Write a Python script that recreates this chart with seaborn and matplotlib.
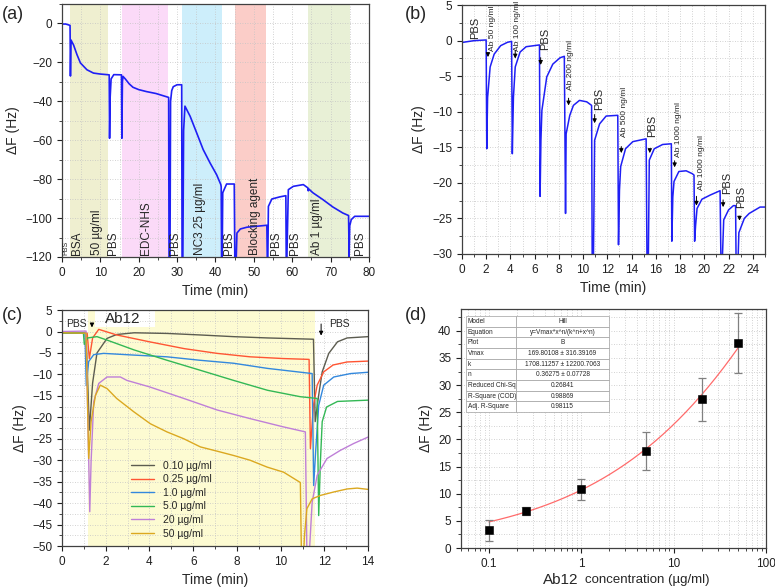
import numpy as np
import pandas as pd
import matplotlib
matplotlib.use("Agg")
import matplotlib.pyplot as plt
from matplotlib.ticker import MultipleLocator, AutoMinorLocator, FuncFormatter, LogLocator
from matplotlib.patches import Rectangle
import seaborn as sns

# ---------------- data ----------------
# (a) sensor functionalisation
a_time = [0.0, 1.0, 1.8, 2.1, 2.2, 2.35, 2.6, 3.0, 3.9, 4.8, 6.5, 8.2, 10.0, 12.3, 12.4, 12.55, 12.8, 13.5,
          15.5, 15.6, 15.75, 15.9, 16.5, 17.5, 18.5, 20.0, 22.0, 24.5, 27.8, 27.9, 28.15, 28.3, 28.6, 29.0,
          30.0, 31.2, 31.3, 31.5, 31.7, 32.05, 33.4, 35.1, 36.8, 38.6, 40.3, 41.4, 41.5, 41.6, 41.75, 41.9,
          42.9, 44.9, 45.05, 45.4, 45.6, 46.5, 48.2, 53.4, 53.5, 53.65, 53.8, 54.7, 56.8, 58.35, 58.45, 58.6,
          59.0, 60.3, 62.9, 64.1, 64.2, 64.3, 65.4, 68.0, 70.6, 73.2, 74.7, 74.85, 75.0, 75.4, 76.3, 80.0]
a_df = [-0.3, -0.3, -0.8, -1.0, -27.0, -8.5, -9.5, -11.0, -16.0, -20.3, -23.8, -25.5, -26.0, -26.4, -59.0, -38.0, -28.5, -26.3,
        -26.4, -59.0, -30.0, -27.2, -28.5, -31.0, -32.8, -34.0, -35.0, -36.0, -38.0, -122, -122, -40.0, -34.5, -32.5,
        -31.5, -31.5, -122, -122, -55.0, -42.5, -47.7, -56.2, -64.8, -71.7, -77.7, -82.8, -84.0, -122, -122, -87.0,
        -82.5, -82.5, -122, -122, -107.7, -105.6, -104.7, -103.7, -122, -122, -94.0, -90.2, -89.1, -88.5, -122, -122,
        -85.4, -83.7, -82.8, -84.5, -86.0, -85.0, -87.0, -90.5, -94.3, -97.4, -98.7, -120.0, -104.0, -100.8, -99.1, -99.1]
a_span_start = [2.2, 15.6, 31.2, 45.2, 64.1]
a_span_end = [12.0, 27.7, 41.6, 53.3, 75.1]
a_span_colors = ["#efefd0", "#fbdaf8", "#cdeefb", "#fbcdc8", "#e8f0d6"]
a_labels = ["BSA", "50 µg/ml", "PBS", "EDC-NHS", "PBS", "NC3 25 µg/ml", "PBS", "Blocking agent",
            "PBS", "PBS", "Ab 1 µg/ml", "PBS"]
a_label_x = [3.9, 9.1, 13.4, 21.8, 29.5, 36.0, 43.6, 50.3, 55.9, 60.7, 66.6, 77.6]

# (b) stepwise antibody injections
b_time = [0.0, 0.1, 1.0, 2.0, 2.05, 2.12, 2.33, 2.66, 3.2, 3.76, 4.1, 4.16, 4.25, 4.4, 4.8, 5.3, 6.4,
          6.45, 6.52, 6.6, 7.0, 7.5, 8.1, 8.45, 8.5, 8.55, 8.6, 8.9, 9.2, 9.7, 10.3, 10.7,
          10.75, 10.85, 10.95, 11.36, 11.9, 12.86, 12.92, 13.0, 13.1, 13.5, 14.1, 15.2,
          15.27, 15.38, 15.46, 15.87, 16.56, 17.28, 17.32, 17.4, 17.5, 17.9, 18.5, 19.0, 19.15,
          19.2, 19.28, 19.4, 19.8, 20.5, 21.3, 21.37, 21.48, 21.6, 22.0, 22.4, 22.58,
          22.62, 22.78, 22.85, 23.3, 23.7, 24.2, 24.6, 25.0]
b_df = [-0.3, -0.23, 0.0, 0.1, -15.2, -8.0, -3.7, -1.9, -0.7, -0.23, -0.1, -15.9, -8.0, -3.7, -1.6, -0.85, -0.6,
        -21.9, -14.0, -9.8, -5.1, -3.3, -2.4, -2.2, -13.0, -24.3, -13.1, -10.5, -9.1, -8.4, -8.6, -9.1,
        -31, -31, -14.0, -11.7, -10.6, -10.5, -28.7, -21.0, -17.7, -15.2, -14.2, -13.8,
        -31, -31, -16.8, -15.2, -14.6, -14.5, -28.2, -22.0, -19.8, -18.4, -18.3, -18.7, -18.9,
        -28.2, -26.0, -23.6, -22.3, -21.7, -21.1, -31, -31, -25.2, -23.8, -23.2, -23.2,
        -31, -31, -27.0, -25.0, -24.3, -23.8, -23.4, -23.4]
b_notes = ["PBS", "Ab 50 ng/ml", "Ab 100 ng/ml", "PBS", "Ab 200 ng/ml", "PBS", "Ab 500 ng/ml", "PBS",
           "Ab 1000 ng/ml", "Ab 1000 ng/ml", "PBS", "PBS"]
b_note_x = [1.1, 2.5, 4.6, 6.9, 9.0, 11.3, 13.4, 15.7, 17.9, 19.8, 21.9, 23.0]
b_note_y = [0.3, -1.4, -1.5, -1.3, -7.0, -9.8, -13.5, -13.5, -16.3, -21.0, -21.5, -23.6]
b_arrow_x = [2.15, 4.4, 6.5, 8.8, 10.95, 13.15, 15.5, 17.55, 19.35, 21.55, 22.9]
b_arrow_top = [-1.3, -1.0, -2.0, -7.7, -10.0, -14.5, -15.0, -16.5, -21.5, -22.0, -24.3]
b_arrow_bot = [-2.7, -2.9, -3.8, -9.5, -12.0, -16.2, -16.2, -18.2, -23.6, -23.8, -25.7]

# (c) Ab12 binding curves
c_labels = ["0.10 µg/ml", "0.25 µg/ml", "1.0 µg/ml", "5.0 µg/ml", "20 µg/ml", "50 µg/ml"]
c_colors = ["#5c5c50", "#ff5533", "#3388dd", "#33b855", "#bf7fd8", "#dba820"]
c_t_010 = [0.0, 1.1, 1.25, 1.4, 1.6, 2.06, 2.5, 3.3, 4.8, 6.3, 7.85, 9.4, 11.5, 11.58, 11.74, 11.9, 12.2, 12.6, 13.04, 14.0]
c_y_010 = [-0.3, -0.4, -23.0, -12.0, -5.0, -1.6, -0.7, -0.3, -0.45, -0.8, -1.2, -1.5, -1.8, -21.0, -14.8, -9.4, -5.1, -2.4, -1.5, -1.2]
c_t_025 = [0.0, 1.15, 1.25, 1.4, 1.68, 2.5, 4.0, 5.6, 7.1, 8.6, 10.1, 11.3, 11.36, 11.5, 11.67, 11.97, 12.4, 13.04, 14.0]
c_y_025 = [-0.3, -0.4, -6.3, -1.5, 0.5, -0.8, -2.4, -4.0, -5.1, -5.9, -6.3, -6.5, -27.3, -17.2, -12.5, -9.4, -7.8, -7.1, -6.9]
c_t_1 = [0.0, 1.05, 1.11, 1.22, 1.45, 1.9, 3.3, 4.8, 6.3, 7.85, 9.4, 11.44, 11.51, 11.6, 11.74, 11.97, 12.43, 13.2, 14.0]
c_y_1 = [-0.3, -0.4, -12.6, -7.0, -5.4, -5.1, -5.5, -5.9, -6.7, -7.4, -8.6, -9.8, -35.9, -28.0, -17.2, -12.5, -10.6, -9.8, -9.5]
c_t_5 = [0.0, 0.98, 1.02, 1.17, 1.6, 2.06, 3.3, 4.8, 6.3, 7.85, 9.4, 10.9, 11.67, 11.74, 11.82, 11.9, 12.1, 12.6, 14.0]
c_y_5 = [-0.3, -0.4, -3.0, -1.5, -1.2, -2.0, -4.3, -6.7, -9.0, -11.4, -13.7, -15.2, -15.6, -42.9, -30.0, -21.0, -17.6, -16.3, -16.0]
c_t_20 = [0.0, 1.1, 1.27, 1.33, 1.45, 1.68, 2.06, 2.67, 2.97, 4.0, 5.57, 7.1, 8.6, 10.1, 11.13, 11.2, 11.33, 11.44, 11.67, 12.12, 12.73, 13.34, 14.0]
c_y_20 = [0.0, 0.1, -42.0, -30.4, -16.4, -12.1, -10.6, -10.6, -11.4, -12.9, -15.6, -18.3, -20.3, -22.2, -23.4, -52.0, -49.9, -39.8, -33.5, -29.6, -27.7, -26.1, -24.6]
c_t_50 = [0.0, 1.1, 1.22, 1.33, 1.53, 1.75, 2.06, 2.5, 3.28, 4.04, 4.8, 5.57, 6.33, 7.1, 7.85, 8.6, 9.38, 10.14, 10.9, 10.95, 11.05, 11.09, 11.2, 11.44, 11.82, 12.43, 13.04, 13.5, 14.0]
c_y_50 = [-0.3, -0.4, -29.6, -21.0, -14.9, -12.5, -13.3, -15.6, -18.7, -21.5, -23.4, -25.0, -26.9, -27.9, -28.9, -30.0, -31.6, -32.8, -35.2, -52.0, -52.0, -47.5, -41.3, -39.0, -38.2, -37.4, -36.7, -36.5, -36.8]
c_times = [c_t_010, c_t_025, c_t_1, c_t_5, c_t_20, c_t_50]
c_values = [c_y_010, c_y_025, c_y_1, c_y_5, c_y_20, c_y_50]

# (d) calibration with Hill fit
d_conc = [0.1, 0.25, 1, 5, 20, 50]
d_df = [3.26, 6.83, 10.83, 17.9, 27.4, 37.7]
d_err = [1.9, 0.75, 1.95, 3.5, 4.0, 5.5]
hill_vmax, hill_k, hill_n = 169.80108, 1708.11257, 0.36275
d_table = [["Model", "Hill"],
           ["Equation", "y=Vmax*x^n/(k^n+x^n)"],
           ["Plot", "B"],
           ["Vmax", "169.80108 ± 316.39169"],
           ["k", "1708.11257 ± 12200.7063"],
           ["n", "0.36275 ± 0.07728"],
           ["Reduced Chi-Sq", "0.26841"],
           ["R-Square (COD)", "0.98869"],
           ["Adj. R-Square", "0.98115"]]

# ---------------- style ----------------
sns.set_style("ticks")
plt.rcParams['font.family'] = ['Liberation Sans', 'DejaVu Sans']
plt.rcParams['axes.edgecolor'] = '#404040'
plt.rcParams['axes.linewidth'] = 0.9

fig = plt.figure(figsize=(7.75, 5.87), dpi=100)
ax_a = fig.add_axes([0.080, 0.5622, 0.396, 0.431])
ax_b = fig.add_axes([0.596, 0.5673, 0.391, 0.424])
ax_c = fig.add_axes([0.080, 0.0698, 0.395, 0.402])
ax_d = fig.add_axes([0.595, 0.0664, 0.3935, 0.407])

GRID = dict(ls=(0, (1, 2)), color='#c4c4c4', lw=0.6)


def setup(ax, xmaj, ymaj):
    if xmaj:
        ax.xaxis.set_major_locator(MultipleLocator(xmaj))
        ax.xaxis.set_minor_locator(AutoMinorLocator(2))
    ax.yaxis.set_major_locator(MultipleLocator(ymaj))
    ax.yaxis.set_minor_locator(AutoMinorLocator(2))
    ax.tick_params(which='major', direction='out', length=3.5, width=0.8, labelsize=8.5, colors='#202020')
    ax.tick_params(which='minor', direction='out', length=2, width=0.6)
    ax.grid(True, which='both', **GRID)
    ax.set_axisbelow(True)
    ax.set_ylabel("ΔF (Hz)", fontsize=10)
    for s in ax.spines.values():
        s.set_visible(True)


# ---------------- (a) ----------------
for s0, s1, col in zip(a_span_start, a_span_end, a_span_colors):
    ax_a.axvspan(s0, s1, color=col, lw=0, zorder=0)
sns.lineplot(x=a_time, y=a_df, ax=ax_a, color='#1f1ff5', lw=1.2, estimator=None, sort=False)
ax_a.set_xlim(0, 80)
ax_a.set_ylim(-120, 10)
setup(ax_a, 10, 20)
ax_a.set_xlabel("Time (min)", fontsize=10)
ax_a.text(1.0, -119, "PBS", rotation=90, fontsize=5, ha='center', va='bottom')
for lab, x in zip(a_labels, a_label_x):
    ax_a.text(x, -118.8, lab, rotation=90, fontsize=8.5, ha='center', va='bottom')

# ---------------- (b) ----------------
sns.lineplot(x=b_time, y=b_df, ax=ax_b, color='#1f1ff5', lw=1.1, estimator=None, sort=False)
ax_b.set_xlim(0, 25)
ax_b.set_ylim(-30, 5)
setup(ax_b, 2, 5)
ax_b.set_xlabel("Time (min)", fontsize=10)
for lab, x, y in zip(b_notes, b_note_x, b_note_y):
    fs = 8 if lab == "PBS" else 6
    ax_b.text(x, y, lab, rotation=90, fontsize=fs, ha='center', va='bottom', clip_on=False)
for x, y0, y1 in zip(b_arrow_x, b_arrow_top, b_arrow_bot):
    ax_b.annotate("", xy=(x, y1), xytext=(x, y0),
                  arrowprops=dict(arrowstyle="-|>", color='black', lw=0.7, mutation_scale=6))

# ---------------- (c) ----------------
ax_c.axvspan(1.17, 11.59, color='#fdfbd2', lw=0, zorder=0)
ax_c.add_patch(Rectangle((1.53, 1.1), 2.74, 4.0, color='white', lw=0, zorder=0.5))
for t, v, lab, col in zip(c_times, c_values, c_labels, c_colors):
    sns.lineplot(x=t, y=v, ax=ax_c, color=col, lw=1.0, label=lab, estimator=None, sort=False)
ax_c.set_xlim(0, 14)
ax_c.set_ylim(-50, 5)
setup(ax_c, 2, 5)
ax_c.set_xlabel("Time (min)", fontsize=10)
ax_c.text(0.2, 1.8, "PBS", fontsize=7.5, va='center')
ax_c.text(1.95, 2.9, "Ab12", fontsize=11, va='center')
ax_c.text(12.2, 1.8, "PBS", fontsize=7.5, va='center')
ax_c.annotate("", xy=(1.37, 0.3), xytext=(1.37, 2.6),
              arrowprops=dict(arrowstyle="-|>", color='black', lw=0.7, mutation_scale=6))
ax_c.annotate("", xy=(11.85, -1.6), xytext=(11.85, 2.4),
              arrowprops=dict(arrowstyle="-|>", color='black', lw=0.7, mutation_scale=6))
ax_c.legend(loc='lower left', bbox_to_anchor=(0.2, 0.0), frameon=False, fontsize=7.5,
            handlelength=2.3, labelspacing=0.35, borderpad=0.2)

# ---------------- (d) ----------------
fit_x = np.logspace(np.log10(0.1), np.log10(50), 200)
fit_y = hill_vmax * fit_x ** hill_n / (hill_k ** hill_n + fit_x ** hill_n)
ax_d.set_xscale('log')
sns.lineplot(x=fit_x, y=fit_y, ax=ax_d, color='#ff6b6b', lw=0.9, estimator=None, sort=False)
ax_d.errorbar(d_conc, d_df, yerr=d_err, fmt='none', ecolor='#808080', elinewidth=0.9, capsize=3, capthick=0.9)
sns.scatterplot(x=d_conc, y=d_df, ax=ax_d, marker='s', s=28, color='black', edgecolor='black', zorder=5)
ax_d.set_xlim(0.05, 100)
ax_d.set_ylim(0, 44)
ax_d.yaxis.set_major_locator(MultipleLocator(5))
ax_d.yaxis.set_minor_locator(AutoMinorLocator(2))
ax_d.xaxis.set_major_locator(LogLocator(base=10))
ax_d.xaxis.set_minor_locator(LogLocator(base=10, subs=np.arange(2, 10)))
ax_d.xaxis.set_major_formatter(FuncFormatter(lambda v, _: f"{v:g}"))
ax_d.tick_params(which='major', direction='out', length=3.5, width=0.8, labelsize=8.5, colors='#202020')
ax_d.tick_params(which='minor', direction='out', length=2, width=0.6)
ax_d.grid(True, which='both', **GRID)
ax_d.set_axisbelow(True)
ax_d.set_ylabel("ΔF (Hz)", fontsize=10)
ax_d.set_xlabel("")
ax_d.text(0.325, -0.135, "Ab12", fontsize=11, ha='center', va='center', transform=ax_d.transAxes)
ax_d.text(0.61, -0.135, "concentration (µg/ml)", fontsize=9.5, ha='center', va='center', transform=ax_d.transAxes)

tbl = ax_d.table(cellText=d_table, colWidths=[0.35, 0.65], bbox=[0.016, 0.569, 0.469, 0.402])
tbl.auto_set_font_size(False)
tbl.set_fontsize(4.7)
for (r, c), cell in tbl.get_celld().items():
    cell.set_edgecolor('#a0a0a0')
    cell.set_linewidth(0.5)
    cell.set_facecolor('white')
    cell.get_text().set_ha('left' if c == 0 else 'center')
    if c == 0:
        cell.PAD = 0.03
tbl.set_zorder(6)

# panel letters
fig.text(0.002, 0.975, "(a)", fontsize=13, va='center')
fig.text(0.523, 0.975, "(b)", fontsize=13, va='center')
fig.text(0.002, 0.462, "(c)", fontsize=13, va='center')
fig.text(0.523, 0.462, "(d)", fontsize=13, va='center')

fig.savefig("out.png", dpi=100)
